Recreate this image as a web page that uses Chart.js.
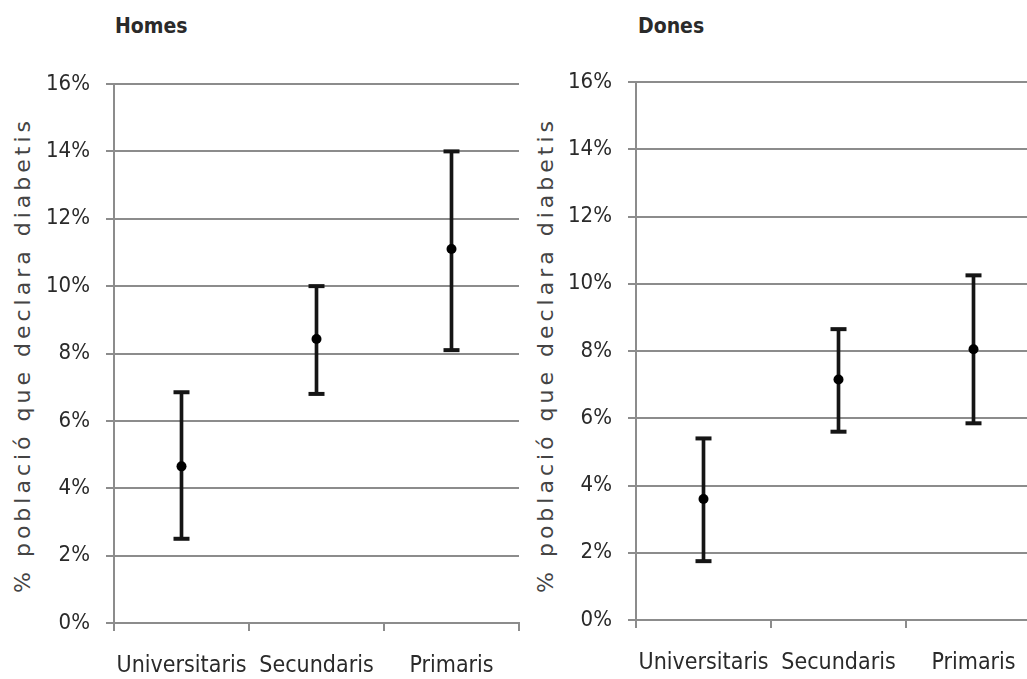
<!DOCTYPE html>
<html>
<head>
<meta charset="utf-8">
<script src="https://cdn.jsdelivr.net/npm/chart.js@4"></script>
<style>
  body { margin:0; width:1027px; height:679px; overflow:hidden; background:#fff; position:relative; font-family:"DejaVu Sans Condensed", "DejaVu Sans", sans-serif; }
  canvas { position:absolute; top:0; }
  .ttl { position:absolute; top:14px; font-size:21px; font-weight:bold; color:#2a2a2a; }
  .ytl { position:absolute; top:355px; font-size:22px; color:#444; white-space:nowrap; letter-spacing:4px;
         font-family:"DejaVu Sans", sans-serif; transform:translate(-50%,-50%) rotate(-90deg); }
</style>
</head>
<body>
<div class="ttl" style="left:115px">Homes</div>
<div class="ttl" style="left:638px">Dones</div>
<div class="ytl" style="left:22px">% població que declara diabetis</div>
<div class="ytl" style="left:545px">% població que declara diabetis</div>
<canvas id="homes" width="531" height="679" style="left:0"></canvas>
<canvas id="dones" width="533" height="679" style="left:520px"></canvas>
<script>
const categories = ["Universitaris", "Secundaris", "Primaris"];
const yTicks = [0, 2, 4, 6, 8, 10, 12, 14, 16];

// homes
const homesLow  = [2.5, 6.8, 8.1];
const homesMid  = [4.65, 8.43, 11.1];
const homesHigh = [6.85, 10.0, 14.0];

// dones
const donesLow  = [1.75, 5.6, 5.85];
const donesMid  = [3.6, 7.15, 8.05];
const donesHigh = [5.4, 8.65, 10.25];

const gridCol = "#8c8c8c";
const ink = "#151515";
const fam = "'DejaVu Sans Condensed', 'DejaVu Sans'";

function makeChart(id, low, mid, high, box) {
  return new Chart(document.getElementById(id), {
    type: 'bar',
    data: {
      labels: categories,
      datasets: [{
        data: low.map((v, i) => [v, high[i]]),
        backgroundColor: ink,
        barThickness: 3,
        order: 3
      }, {
        type: 'line',
        data: high,
        showLine: false,
        pointStyle: 'line',
        pointRadius: 8,
        pointBorderWidth: 4,
        pointBorderColor: ink,
        order: 2
      }, {
        type: 'line',
        data: low,
        showLine: false,
        pointStyle: 'line',
        pointRadius: 8,
        pointBorderWidth: 4,
        pointBorderColor: ink,
        order: 2
      }, {
        type: 'line',
        data: mid,
        showLine: false,
        pointRadius: 5,
        pointBackgroundColor: "#000",
        pointBorderWidth: 0,
        order: 1
      }]
    },
    options: {
      responsive: false,
      animation: false,
      layout: { padding: { top: box.top, right: box.right, left: 0, bottom: 0 } },
      plugins: { legend: { display: false }, tooltip: { enabled: false } },
      scales: {
        x: {
          offset: true,
          grid: { offset: true, drawOnChartArea: false, color: gridCol, lineWidth: 2, tickLength: 8 },
          border: { color: gridCol, width: 2 },
          ticks: { font: { family: fam, size: 23 }, color: "#2a2a2a", padding: 21, maxRotation: 0, autoSkip: false },
          afterFit: s => { s.height = box.xh; }
        },
        y: {
          min: 0, max: 16,
          afterBuildTicks: s => { s.ticks = yTicks.map(v => ({ value: v })); },
          grid: { color: gridCol, lineWidth: 2, tickLength: 8 },
          border: { color: gridCol, width: 2 },
          ticks: { font: { family: fam, size: 22 }, color: "#2a2a2a", padding: 16, callback: v => v + '%' },
          afterFit: s => { s.width = box.yw; }
        }
      }
    }
  });
}

makeChart("homes", homesLow, homesMid, homesHigh, { top: 84, right: 5, yw: 114, xh: 56 });
makeChart("dones", donesLow, donesMid, donesHigh, { top: 82, right: 5, yw: 116, xh: 59 });
</script>
</body>
</html>
